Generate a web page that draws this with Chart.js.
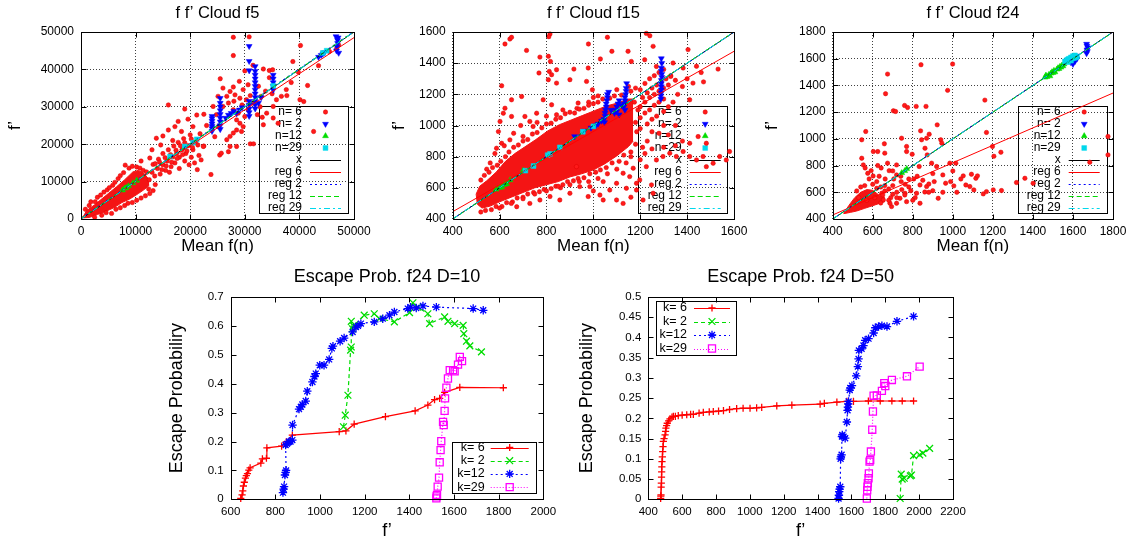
<!DOCTYPE html>
<html>
<head>
<meta charset="utf-8">
<script src="https://cdn.jsdelivr.net/npm/chart.js@4.4.1/dist/chart.umd.min.js"></script>
<style>
  html, body { margin: 0; padding: 0; background: #fff; }
  #sheet { position: relative; width: 1136px; height: 542px; overflow: hidden; background: #fff; }
  #sheet canvas { position: absolute; left: 0; top: 0; pointer-events: none; }
</style>
</head>
<body>
<div id="sheet">
  <canvas id="cF5" width="1136" height="542"></canvas>
  <canvas id="cF15" width="1136" height="542"></canvas>
  <canvas id="cF24" width="1136" height="542"></canvas>
  <canvas id="cD10" width="1136" height="542"></canvas>
  <canvas id="cD50" width="1136" height="542"></canvas>
</div>
<script>
// ---------------------------------------------------------------------------
// Tick values
// ---------------------------------------------------------------------------
const f5Ticks   = [0, 10000, 20000, 30000, 40000, 50000];
const f15Ticks  = [400, 600, 800, 1000, 1200, 1400, 1600];
const f24Ticks  = [400, 600, 800, 1000, 1200, 1400, 1600, 1800];
const d10XTicks = [600, 800, 1000, 1200, 1400, 1600, 1800, 2000];
const d10YTicks = [0, 0.1, 0.2, 0.3, 0.4, 0.5, 0.6, 0.7];
const d50XTicks = [400, 600, 800, 1000, 1200, 1400, 1600, 1800, 2000, 2200];
const d50YTicks = [0, 0.05, 0.1, 0.15, 0.2, 0.25, 0.3, 0.35, 0.4, 0.45, 0.5];

// ---------------------------------------------------------------------------
// f5 cloud: [mean f(n), f']
// ---------------------------------------------------------------------------
// region where the n=6 markers overlap completely (upper / lower edge)
const f5DenseTop = [[300,300],[1000,2200],[2500,3800],[3500,5000],[5000,6800],[6500,8600],[8000,10500],[9500,12600],[10500,13000],[11500,12200],[12500,10500]];
const f5DenseLow = [[300,300],[1500,400],[3000,1200],[4500,2000],[6000,3000],[7500,4400],[9000,5400],[10500,6800],[11500,7800],[12500,9000]];
const f5N6 = [
  [800,2600],[1500,3600],[1800,4600],[2600,4600],[3000,5800],[3600,6400],[4200,7200],[4800,7800],[5200,8400],[5800,9000],[6200,9800],[6800,10800],[7200,11600],[7800,12400],[8100,14400],[8800,13600],[9400,14100],[10200,13900],[10800,13600],[11400,13000],[12000,12600],
  [2500,500],[3800,1000],[4600,1700],[5600,1500],[6400,2600],[7200,3000],[8000,3600],[8600,4200],[9400,4400],[10200,5000],[11000,5600],[11800,6200],[12600,6800],[13200,7600],[12400,8000],[13600,9200],
  [12500,10500],[13000,12500],[13200,14600],[13500,11500],[14000,13500],[14200,16000],[14500,12000],[15000,14500],[15000,17500],[15500,13000],[15800,15500],[16000,18500],[16200,12500],[16500,14000],[16800,16600],[17000,19500],[17200,15000],[17500,17500],[17800,20500],[18000,13500],[18000,16500],[18500,18500],[18800,21500],[19000,15500],[19200,17500],[19600,19600],[19800,14500],[20000,22500],[20200,16500],[20500,18500],[20800,15000],[21000,20500],[21300,13200],[21600,17000],[22000,15800],[22500,19500],[23800,11900],[13000,18500],[13800,21600],[15000,22200],[16000,23800],[17200,24700],[17800,26100],[19600,26700],[19000,29400],[16000,30500],[21200,27800],[20500,24700],[22400,19400],[25400,17100],[27000,18000],[28500,19400],[12600,16300],[11000,15500],[14600,19800],[18400,23400],[16800,21000],[21800,22800],
  [13600,14800],[14400,15200],[15400,16400],[16400,17200],[17400,18400],[18200,19600],[19000,20400],[20200,21400],[14800,13200],[15600,14200],[16600,15200],[17600,16200],[18600,17200],[19400,18200],[20400,19200],[21400,19800],
  [25500,37500],[27900,43700],[27900,48600],[30800,48700],[30000,39600],[31500,41100],[33400,40100],[34500,39700],[35100,39900],[30600,35900],[29700,34600],[27900,35300],[27300,34100],[26700,32800],[28200,33200],[29100,32300],[30300,31900],[31500,31000],[27000,31000],[26000,30100],[27900,29200],[28800,28300],[30000,27400],[30600,29200],[29100,25600],[29700,24700],[28500,23800],[29400,23400],[27900,23000],[27300,22100],[26700,21200],[25700,17600],[27300,19400],[31000,20100],[31600,20100],[32300,27900],[33200,27200],[34000,28300],[35200,30100],[35800,31900],[36700,32800],[37600,34600],[37700,33000],[38800,42100],[40200,46400],[40100,31900],[40800,31400],[41500,35700],[42600,23400],[36100,25600],[35200,27000],[33400,25200],[25100,32800],[24200,30100],[24800,27900],[25100,24700],[24500,22000],[23000,25000],[22500,28000],[28500,26500],[29500,30500],[31000,33000],[32500,35500],[33800,34200],[35000,33500],[32800,30000],[34500,37800],[38500,36500],[39800,39300],[43500,41000],[46800,45500],[47200,46500],[45500,44800],[29000,36800],[26000,35000],[28000,31500],[33000,32800]
];
const f5N2 = [
  [24000,23500],[24000,24200],[24000,24800],[24000,25500],[24000,26200],[24000,26900],[24000,27500],
  [25500,24000],[25500,25000],[25500,26000],[25500,27000],[25500,28000],[25500,29000],[25500,30000],[25500,31000],[25500,32300],
  [26500,27000],[27000,27800],[27500,28300],[28000,28800],[28500,28200],[29000,29200],[29500,29800],
  [30800,27500],[30800,28500],[30800,29500],[30800,30500],[30800,31500],[30800,39700],[30800,42200],[30800,46200],
  [31900,29500],[31900,30500],[31900,31500],[31900,32500],[31900,33500],[31900,34500],[31900,35500],[31900,36500],[31900,37500],[31900,38500],[31900,39500],[31900,40800],
  [32500,31000],[33000,32500],
  [35200,34500],[35200,35500],[35200,36500],[35200,37500],[35200,38500],
  [43500,43300],[44000,43800],[44300,44200],[44600,44500],
  [46800,45000],[46900,46000],[47000,47000],[47000,47800],[47100,48500],[46700,48800],[47200,44400]
];
const f5N12 = [[7600,7700],[8000,8200],[8300,8400],[8700,8800],[9500,9600],[10200,10300]];
const f5N29 = [[16300,16700],[19000,19400],[20500,20400],[21200,21300],[35200,35600],[44300,44400],[45000,45000]];
const f5LineX = [[0,0],[50000,50000]];
const f5Reg6  = [[0,300],[50000,48500]];
const f5Reg2  = [[0,200],[50000,50200]];
const f5Reg12 = [[0,100],[50000,50100]];
const f5Reg29 = [[0,0],[50000,50000]];

// ---------------------------------------------------------------------------
// f15 cloud
// ---------------------------------------------------------------------------
const f15DenseTop = [[500,560],[515,610],[545,645],[585,700],[625,770],[665,820],[705,860],[755,910],[805,965],[855,1005],[905,1035],[955,1065],[1005,1095],[1055,1125],[1105,1145],[1150,1170],[1170,1170]];
const f15DenseLow = [[500,560],[505,495],[525,470],[560,483],[600,510],[650,540],[700,570],[750,600],[800,620],[850,640],[900,670],[950,690],[1000,715],[1050,755],[1100,805],[1150,865],[1170,900]];
const f15N6 = [
  [623,1523],[644,1555],[651,1566],[715,1482],[815,1587],[810,1570],[808,1444],[817,1411],[812,1347],[822,1326],[808,1294],[772,1439],[768,1337],[843,1358],[917,1362],[978,1369],[979,1523],[1060,1566],[1079,1476],[1030,1427],[971,1283],[996,1229],[609,1255],[694,1186],[651,1165],[623,1111],[616,1079],[651,1058],[602,1026],[595,961],[644,908],[609,886],[587,854],[708,1058],[729,1026],[743,994],[758,1079],[786,1165],[822,1133],[843,1069],[843,1272],[900,1294],[935,1144],[560,760],[545,720],[580,820],[620,870],[660,950],[690,1000],[700,930],[760,1020],[800,1060],[870,1100],[930,1110],[980,1150],[1020,1190],[1100,1230],[1150,1250],[1000,1180],
  [520,650],[535,680],[555,700],[570,730],[590,745],[605,770],[625,800],[640,830],[660,860],[680,875],[700,900],[720,910],[740,945],[760,955],[780,985],[800,1010],[820,1015],[840,1040],[860,1050],[880,1075],[900,1085],[920,1080],[940,1105],[960,1110],[980,1130],[1000,1140],[1020,1150],[1040,1170],[1070,1175],[1090,1190],[1120,1195],[1160,1220],[1180,1240],
  [520,445],[540,455],[565,460],[585,480],[610,480],[630,505],[655,510],[675,535],[700,540],[720,560],[745,570],[770,575],[790,590],[820,595],[840,610],[870,620],[890,640],[915,645],[935,660],[960,665],[985,690],[1010,700],[1030,715],[1055,730],[1080,760],[1110,770],[1130,810],[1160,830],[1180,880],[1185,960],[1180,1020],[1190,1100],[1175,1150],
  [1200,1230],[1220,1270],[1240,1300],[1260,1320],[1280,1340],[1300,1360],[1210,1180],[1230,1210],[1250,1240],[1270,1260],[1290,1280],[1310,1300],[1330,1320],[1200,1120],[1220,1150],[1240,1180],[1260,1200],[1280,1220],[1300,1240],[1320,1260],[1200,1050],[1220,1080],[1240,1100],[1260,1130],[1280,1150],[1300,1170],[1200,980],[1230,1010],[1250,1040],[1270,1060],[1300,1090],[1320,1120],[1340,1150],[1360,1200],[1380,1250],[1330,1315],[1340,1401],[1383,1369],[1404,1487],[1425,1272],[1411,1165],[1532,1362],[1226,1591],[1241,1576],[1255,1508],[1219,1422],[1148,1476],[1162,1411],[1269,1379],[1350,1290],[1400,1300],[1440,1380],[1460,1340],[1470,1280],
  [928,736],[942,608],[978,544],[1028,554],[1042,640],[1070,586],[1099,629],[1127,694],[1141,597],[1155,672],[1170,726],[1184,629],[1198,651],[1226,736],[1248,619],[1269,779],[1297,801],[1326,822],[1354,801],[1383,833],[1411,801],[1440,779],[1468,801],[1482,736],[1511,758],[1539,801],[1567,779],[1581,833],[1447,929],[1411,886],[1482,886],[1380,900],[1350,870],[1300,860],[1250,850],[1220,820],[1200,780],[1160,800],[1140,760],[1100,720],[1060,690],[1020,660],[980,640],[940,640],[900,620],[860,600],[673,479],[729,500],[772,522],[815,544],[857,522],[900,565],[985,608],[1042,522],[1099,522],[1184,586],[1212,522],[1255,565],[1127,500],[1160,540],[1000,580],[600,470],[650,500],[700,530],[750,560],[800,580],[850,610],[1320,940],[1350,1000],[1300,1000],[1280,950],[1250,960],[1230,900],[1210,860]
];
const f15N2 = [
  [1045,1040],[1048,1020],[1050,1060],[1050,1080],[1052,1100],[1055,1120],[1055,1140],[1058,1160],[1060,1180],[1060,1200],[1065,1215],
  [1090,1080],[1095,1100],[1100,1120],[1105,1140],[1110,1160],[1100,1090],[1110,1070],
  [1130,1120],[1132,1140],[1135,1160],[1135,1180],[1138,1200],[1140,1220],[1140,1240],[1142,1270],[1135,1100],
  [1288,1170],[1288,1190],[1290,1210],[1290,1230],[1290,1250],[1290,1270],[1290,1290],[1292,1310],[1292,1330],[1290,1350],[1290,1370],[1292,1400],[1290,1430],
  [920,930],[960,965],[990,985],[1010,1000],[1020,1010],[1035,1030],[1075,1100],[1120,1130]
];
const f15N12 = [[585,590],[600,600],[610,605],[620,620],[630,625],[645,650],[700,710]];
const f15N29 = [[710,710],[745,740],[805,810],[815,818],[857,860],[955,960],[1000,995]];
const f15LineX = [[400,400],[1600,1600]];
const f15Reg6  = [[400,447],[1600,1476]];
const f15Reg2  = [[400,402],[1600,1598]];
const f15Reg12 = [[400,399],[1600,1601]];
const f15Reg29 = [[400,400],[1600,1600]];

// ---------------------------------------------------------------------------
// f24 cloud
// ---------------------------------------------------------------------------
const f24DenseTop = [[455,440],[480,500],[510,560],[540,600],[570,620],[600,615],[630,580],[660,560]];
const f24DenseLow = [[455,440],[490,450],[520,460],[560,480],[600,500],[630,515],[660,530]];
const f24N6 = [
  [674,1485],[841,1555],[999,1560],[974,1363],[664,1338],[703,1210],[714,1205],[759,1250],[774,1235],[817,1243],[866,1243],[1160,1290],[1240,900],[1205,870],
  [565,1055],[545,993],[545,855],[553,805],[603,905],[625,905],[658,963],[660,893],[674,818],[719,805],[719,730],[744,1005],[769,943],[769,905],[797,885],[839,1060],[844,993],[869,1005],[882,1035],[861,930],[872,880],[894,818],[832,793],[919,793],[940,993],[945,968],[922,1105],[1015,818],[985,818],[1168,1048],[1198,943],
  [989,680],[1005,648],[964,668],[907,680],[869,643],[836,655],[819,593],[836,518],[769,530],[761,593],[736,555],[719,518],[694,493],[686,518],[653,543],[645,593],[620,630],[927,555],[1052,723],[1093,735],[1115,705],[1123,723],[1065,655],[1085,643],[1105,618],[1152,588],[1168,605],[1202,618],[1243,613],[1318,673],[1360,705],[1401,668],[1775,1018],[1775,880],[1684,825],
  [600,660],[620,680],[640,640],[660,610],[680,625],[700,585],[720,600],[745,620],[780,640],[805,700],[822,720],[850,690],[880,662],[700,650],[662,700],[632,720],[602,722],[582,700],[592,762],[562,782],[575,742],[642,782],[682,762],[705,700],[742,680],[762,660],[790,612],[812,560],[860,602],[900,612],[950,600],[1020,600],[1040,700],[560,650],[540,640],[520,610],[530,560],[570,540],[610,560],[650,580],[690,560],[720,560],[680,540],[640,520],[760,580],[800,540],[880,600],[1000,760],[950,730],[900,740],[780,700],[740,720],[660,650],[700,760],[625,800]
];
const f24N2 = [[1668,1640],[1672,1655],[1670,1668],[1675,1682],[1670,1695],[1668,1710],[1600,1560],[1610,1580],[1620,1600],[1590,1572],[1615,1620]];
const f24N12 = [[1460,1460],[1465,1475],[1470,1465],[1480,1480],[1485,1470],[1490,1490],[1495,1500],[1500,1495],[1505,1510],[1510,1500],[1520,1520],[1525,1530],[1530,1525],[1535,1540],[1540,1535],[1545,1550],[1550,1545],[1555,1560],[745,745],[760,760],[770,775]];
const f24N29 = [[1560,1580],[1570,1590],[1575,1575],[1580,1600],[1585,1590],[1590,1610],[1595,1600],[1600,1620],[1605,1605],[1610,1625],[1615,1610],[1620,1615],[1575,1595],[1590,1585]];
const f24LineX = [[400,400],[1800,1800]];
const f24Reg6  = [[400,430],[1800,1343]];
const f24Reg2  = [[400,401],[1800,1801]];
const f24Reg12 = [[400,399],[1800,1799]];
const f24Reg29 = [[400,400],[1800,1800]];

// ---------------------------------------------------------------------------
// Escape probability, f24: [f', probability]
// ---------------------------------------------------------------------------
const d10K6 = [[645,0.003],[651,0.015],[654,0.029],[657,0.046],[661,0.059],[666,0.073],[670,0.082],[675,0.089],[681,0.101],[687,0.109],[735,0.125],[742,0.14],[760,0.142],[762,0.178],[828,0.184],[849,0.199],[876,0.222],[1086,0.234],[1116,0.237],[1153,0.26],[1293,0.286],[1426,0.306],[1483,0.326],[1513,0.345],[1536,0.349],[1558,0.37],[1626,0.387],[1821,0.386]];
const d10K2 = [[1105,0.251],[1113,0.291],[1125,0.36],[1137,0.516],[1140,0.527],[1140,0.616],[1145,0.59],[1150,0.6],[1198,0.637],[1243,0.642],[1266,0.625],[1333,0.614],[1401,0.646],[1416,0.68],[1438,0.665],[1483,0.642],[1491,0.608],[1558,0.631],[1573,0.616],[1603,0.608],[1641,0.602],[1644,0.573],[1656,0.547],[1671,0.531],[1723,0.51]];
const d10K12 = [[834,0.023],[837,0.035],[839,0.044],[843,0.084],[846,0.093],[848,0.1],[846,0.188],[852,0.192],[861,0.199],[868,0.2],[876,0.205],[877,0.257],[906,0.312],[914,0.32],[921,0.328],[936,0.34],[943,0.374],[966,0.406],[975,0.425],[981,0.435],[999,0.464],[1018,0.464],[1041,0.484],[1053,0.522],[1058,0.53],[1090,0.547],[1108,0.558],[1146,0.579],[1161,0.596],[1170,0.6],[1183,0.608],[1243,0.614],[1281,0.625],[1311,0.637],[1333,0.648],[1393,0.66],[1405,0.665],[1431,0.662],[1461,0.669],[1521,0.665],[1686,0.66],[1731,0.654]];
const d10K29 = [[1521,0.003],[1522,0.01],[1524,0.015],[1527,0.044],[1533,0.075],[1536,0.128],[1540,0.17],[1543,0.201],[1551,0.268],[1554,0.257],[1558,0.306],[1560,0.349],[1566,0.386],[1573,0.418],[1581,0.447],[1596,0.447],[1603,0.443],[1618,0.466],[1626,0.493],[1636,0.478]];

const d50K6 = [[473,0.002],[474,0.008],[475,0.011],[476,0.03],[477,0.04],[478,0.055],[479,0.068],[480,0.08],[481,0.093],[483,0.105],[485,0.118],[487,0.13],[489,0.143],[493,0.15],[499,0.159],[502,0.168],[504,0.176],[508,0.182],[512,0.188],[520,0.194],[528,0.199],[540,0.203],[548,0.205],[560,0.205],[577,0.207],[600,0.208],[627,0.209],[650,0.21],[666,0.21],[700,0.213],[725,0.215],[760,0.216],[784,0.217],[815,0.218],[844,0.219],[880,0.222],[922,0.224],[960,0.225],[1001,0.225],[1040,0.226],[1070,0.227],[1159,0.231],[1248,0.233],[1415,0.235],[1440,0.237],[1514,0.24],[1573,0.242],[1612,0.242],[1700,0.243],[1770,0.243],[1839,0.243],[1900,0.243],[1967,0.243]];
const d50K2 = [[1888,0.002],[1894,0.062],[1900,0.05],[1912,0.052],[1948,0.058],[1955,0.06],[1967,0.108],[2003,0.11],[2022,0.114],[2062,0.126]];
const d50K12 = [[1524,0.002],[1526,0.01],[1528,0.019],[1530,0.025],[1534,0.031],[1536,0.1],[1538,0.105],[1542,0.11],[1544,0.155],[1546,0.159],[1553,0.155],[1563,0.151],[1573,0.191],[1577,0.22],[1579,0.228],[1581,0.236],[1583,0.242],[1590,0.27],[1593,0.275],[1603,0.281],[1628,0.305],[1638,0.328],[1642,0.347],[1644,0.368],[1660,0.372],[1671,0.38],[1681,0.393],[1701,0.397],[1731,0.411],[1741,0.424],[1760,0.427],[1780,0.429],[1810,0.427],[1869,0.44],[1967,0.452]];
const d50K29 = [[1691,0.002],[1693,0.022],[1695,0.031],[1697,0.04],[1701,0.052],[1703,0.064],[1707,0.093],[1711,0.097],[1715,0.118],[1723,0.172],[1727,0.217],[1731,0.256],[1750,0.257],[1780,0.268],[1794,0.287],[1800,0.28],[1839,0.295],[1928,0.304],[2003,0.328]];

// ---------------------------------------------------------------------------
// Styling helpers
// ---------------------------------------------------------------------------
const PAGE_W = 1136, PAGE_H = 542;
const FONT = '"Liberation Sans", Arial, Helvetica, sans-serif';
const RED = '#ff0000', GREEN = '#00dd00', BLUE = '#0000ff', MAGENTA = '#ff00ff', CYAN = '#00d8ec';
const GRID = 'rgba(0,0,0,0.75)';
Chart.defaults.font.family = FONT;

const xy = a => a.map(p => ({ x: p[0], y: p[1] }));

function markerSet(label, pts, st) {
  return {
    type: 'scatter', keyLabel: label, data: xy(pts), showLine: false,
    pointStyle: st.style, pointRadius: st.r, pointRotation: st.rot || 0,
    pointBackgroundColor: st.fill, pointBorderColor: st.edge, pointBorderWidth: st.bw,
    clip: 8
  };
}
function fitLine(label, pts, color, dash) {
  return {
    type: 'scatter', keyLabel: label, data: xy(pts), showLine: true,
    borderColor: color, borderWidth: 1, borderDash: dash, pointRadius: 0, clip: 0
  };
}
function denseBand(top, low, color) {
  return [
    { type: 'line', data: xy(top), borderColor: color, borderWidth: 1, backgroundColor: color,
      fill: '+1', pointRadius: 0, tension: 0, clip: 0 },
    { type: 'line', data: xy(low), borderColor: color, borderWidth: 1, backgroundColor: color,
      fill: false, pointRadius: 0, tension: 0, clip: 0 }
  ];
}
function curve(label, pts, color, dash, style, r) {
  return {
    type: 'scatter', keyLabel: label, data: xy(pts), showLine: true,
    borderColor: color, borderWidth: 1.2, borderDash: dash,
    pointStyle: style, pointRadius: r, pointBackgroundColor: 'rgba(0,0,0,0)',
    pointBorderColor: color, pointBorderWidth: 1.3, clip: 8
  };
}

const dotRed    = { style: 'circle',   r: 2.2, fill: '#ff1a1a', edge: '#dd0000', bw: 0.5 };
const triBlue   = { style: 'triangle', r: 3.4, rot: 180, fill: BLUE, edge: BLUE, bw: 0.5 };
const triGreen  = { style: 'triangle', r: 3.4, fill: GREEN, edge: GREEN, bw: 0.5 };
const sqCyan    = { style: 'rect',     r: 3.4, fill: CYAN, edge: CYAN, bw: 0.5 };

function cloudSets(dTop, dLow, n6, n2, n12, n29, lx, r6, r2, r12, r29) {
  return [
    ...denseBand(dTop, dLow, '#f41414'),
    markerSet('n= 6', n6, dotRed),
    markerSet('n= 2', n2, triBlue),
    markerSet('n=12', n12, triGreen),
    markerSet('n=29', n29, sqCyan),
    fitLine('x', lx, '#000000', []),
    fitLine('reg 6', r6, RED, []),
    fitLine('reg 2', r2, BLUE, [2, 3]),
    fitLine('reg 12', r12, GREEN, [5, 3]),
    fitLine('reg 29', r29, CYAN, [6, 3, 2, 3])
  ];
}
function escapeSets(k6, k2, k12, k29) {
  return [
    curve('k= 6', k6, RED, [], 'cross', 3.6),
    curve('k= 2', k2, GREEN, [4, 3], 'crossRot', 4.8),
    curve('k=12', k12, BLUE, [2, 3], 'star', 4.2),
    curve('k=29', k29, MAGENTA, [1, 2], 'rect', 5)
  ];
}

// ---------------------------------------------------------------------------
// Drawing of frame, inward ticks, key and panel title
// ---------------------------------------------------------------------------
function drawMarker(ctx, ds, x, y) {
  ctx.save();
  ctx.fillStyle = ds.pointBackgroundColor;
  ctx.strokeStyle = ds.pointBorderColor;
  ctx.lineWidth = ds.pointBorderWidth;
  ctx.setLineDash([]);
  Chart.helpers.drawPoint(ctx, {
    pointStyle: ds.pointStyle, rotation: ds.pointRotation || 0,
    radius: ds.pointRadius, borderWidth: ds.pointBorderWidth
  }, x, y);
  ctx.restore();
}
function drawKey(chart, k) {
  const ctx = chart.ctx;
  ctx.save();
  ctx.strokeStyle = '#000';
  ctx.lineWidth = 1;
  ctx.setLineDash([]);
  ctx.strokeRect(Math.round(k.left) + 0.5, Math.round(k.top) + 0.5,
                 Math.round(k.right - k.left), Math.round(k.bottom - k.top));
  ctx.font = k.size + 'px ' + FONT;
  ctx.textAlign = 'right';
  ctx.textBaseline = 'middle';
  let row = 0;
  chart.data.datasets.forEach(ds => {
    if (!ds.keyLabel) return;
    const y = k.rows[row++];
    ctx.fillStyle = '#000';
    ctx.fillText(ds.keyLabel, k.right - k.textGap, y);
    const x1 = k.right - k.sampleFrom, x2 = k.right - k.sampleTo;
    if (ds.showLine) {
      ctx.save();
      ctx.strokeStyle = ds.borderColor;
      ctx.lineWidth = ds.borderWidth;
      ctx.setLineDash(ds.borderDash || []);
      ctx.beginPath();
      ctx.moveTo(x1, Math.round(y) + 0.5);
      ctx.lineTo(x2, Math.round(y) + 0.5);
      ctx.stroke();
      ctx.restore();
    }
    if (ds.pointRadius > 0) drawMarker(ctx, ds, (x1 + x2) / 2, y);
  });
  ctx.restore();
}
function drawFrame(chart, len) {
  const ctx = chart.ctx, a = chart.chartArea;
  const L = Math.round(a.left) + 0.5, R = Math.round(a.right) + 0.5;
  const T = Math.round(a.top) + 0.5, B = Math.round(a.bottom) + 0.5;
  const sx = chart.scales.x, sy = chart.scales.y;
  ctx.save();
  ctx.strokeStyle = '#000';
  ctx.lineWidth = 1;
  ctx.setLineDash([]);
  ctx.beginPath();
  sx.ticks.forEach(t => {
    const px = Math.round(sx.getPixelForValue(t.value)) + 0.5;
    ctx.moveTo(px, B); ctx.lineTo(px, B - len);
    ctx.moveTo(px, T); ctx.lineTo(px, T + len);
  });
  sy.ticks.forEach(t => {
    const py = Math.round(sy.getPixelForValue(t.value)) + 0.5;
    ctx.moveTo(L, py); ctx.lineTo(L + len, py);
    ctx.moveTo(R, py); ctx.lineTo(R - len, py);
  });
  ctx.stroke();
  ctx.strokeRect(L, T, R - L, B - T);
  ctx.restore();
}
function drawTitle(chart, t) {
  const ctx = chart.ctx, a = chart.chartArea;
  ctx.save();
  ctx.font = t.size + 'px ' + FONT;
  ctx.fillStyle = '#000';
  ctx.textAlign = 'center';
  ctx.textBaseline = 'middle';
  ctx.fillText(t.text, (a.left + a.right) / 2, t.y);
  ctx.restore();
}

// ---------------------------------------------------------------------------
// One panel = one chart; its plot box is placed by layout padding and fixed axis sizes
// ---------------------------------------------------------------------------
function buildPanel(canvasId, p) {
  const padLeft = p.yTitleX - p.yTitleSize / 2;
  const axisW = p.area.l - padLeft;
  const axisH = (p.xTitleY + p.xTitleSize / 2) - p.area.b;
  const padBottom = PAGE_H - (p.area.b + axisH);
  p.datasets.forEach((d, i, arr) => { d.order = arr.length - i; });
  const tickFmt = v => String(v);
  const decor = {
    id: 'panelDecor',
    beforeDatasetsDraw(chart) { drawKey(chart, p.key); },
    afterDatasetsDraw(chart) { drawFrame(chart, 5); },
    afterDraw(chart) { drawTitle(chart, p.title); }
  };
  return new Chart(document.getElementById(canvasId), {
    type: 'scatter',
    data: { datasets: p.datasets },
    options: {
      responsive: false,
      animation: false,
      events: [],
      layout: { padding: { left: padLeft, top: p.area.t, right: PAGE_W - p.area.r, bottom: padBottom } },
      plugins: { legend: { display: false }, tooltip: { enabled: false } },
      scales: {
        x: {
          type: 'linear', position: 'bottom',
          min: p.xTicks[0], max: p.xTicks[p.xTicks.length - 1],
          afterBuildTicks: s => { s.ticks = p.xTicks.map(v => ({ value: v })); },
          afterFit: s => { s.height = axisH; },
          grid: { display: p.grid, drawTicks: false, color: GRID, lineWidth: 1 },
          border: { display: false, dash: [1, 2] },
          ticks: { color: '#000', font: { family: FONT, size: p.tickSize }, padding: p.xTickPad,
                   maxRotation: 0, autoSkip: false, callback: tickFmt },
          title: { display: true, text: p.xTitle, color: '#000',
                   font: { family: FONT, size: p.xTitleSize, lineHeight: 1 }, padding: 0 }
        },
        y: {
          type: 'linear', position: 'left',
          min: p.yTicks[0], max: p.yTicks[p.yTicks.length - 1],
          afterBuildTicks: s => { s.ticks = p.yTicks.map(v => ({ value: v })); },
          afterFit: s => { s.width = axisW; },
          grid: { display: p.grid, drawTicks: false, color: GRID, lineWidth: 1 },
          border: { display: false, dash: [1, 2] },
          ticks: { color: '#000', font: { family: FONT, size: p.tickSize }, padding: p.yTickPad,
                   autoSkip: false, callback: tickFmt },
          title: { display: true, text: p.yTitle, color: '#000',
                   font: { family: FONT, size: p.yTitleSize, lineHeight: 1 }, padding: 0 }
        }
      }
    },
    plugins: [decor]
  });
}

const cloudKeyRows = [112, 124, 136, 148, 160, 172, 184, 196, 208];
function cloudKey(left, right) {
  return { left, right, top: 106, bottom: 213, size: 12, rows: cloudKeyRows,
           textGap: 46, sampleFrom: 38, sampleTo: 7 };
}
const cloudCommon = {
  grid: true, tickSize: 12, xTickPad: 5, yTickPad: 7,
  xTitle: 'Mean f(n)', yTitle: 'f\u2019', xTitleSize: 17, yTitleSize: 17, xTitleY: 246.5
};
const escapeCommon = {
  grid: false, tickSize: 11.5, xTickPad: 6, yTickPad: 7,
  xTitle: 'f\u2019', yTitle: 'Escape Probabiliry', xTitleSize: 18, yTitleSize: 18, xTitleY: 531
};

buildPanel('cF5', Object.assign({}, cloudCommon, {
  area: { l: 81, t: 32, r: 354, b: 219 }, yTitleX: 15,
  xTicks: f5Ticks, yTicks: f5Ticks,
  title: { text: 'f f\u2019 Cloud f5', y: 13, size: 16.5 },
  key: cloudKey(259, 348),
  datasets: cloudSets(f5DenseTop, f5DenseLow, f5N6, f5N2, f5N12, f5N29, f5LineX, f5Reg6, f5Reg2, f5Reg12, f5Reg29)
}));
buildPanel('cF15', Object.assign({}, cloudCommon, {
  area: { l: 452.7, t: 32, r: 734, b: 219 }, yTitleX: 399,
  xTicks: f15Ticks, yTicks: f15Ticks,
  title: { text: 'f f\u2019 Cloud f15', y: 13, size: 16.5 },
  key: cloudKey(638.3, 727.7),
  datasets: cloudSets(f15DenseTop, f15DenseLow, f15N6, f15N2, f15N12, f15N29, f15LineX, f15Reg6, f15Reg2, f15Reg12, f15Reg29)
}));
buildPanel('cF24', Object.assign({}, cloudCommon, {
  area: { l: 832.7, t: 32, r: 1113, b: 219 }, yTitleX: 772,
  xTicks: f24Ticks, yTicks: f24Ticks,
  title: { text: 'f f\u2019 Cloud f24', y: 13, size: 16.5 },
  key: cloudKey(1017.7, 1106.7),
  datasets: cloudSets(f24DenseTop, f24DenseLow, f24N6, f24N2, f24N12, f24N29, f24LineX, f24Reg6, f24Reg2, f24Reg12, f24Reg29)
}));
buildPanel('cD10', Object.assign({}, escapeCommon, {
  area: { l: 230.7, t: 297, r: 543.3, b: 499.3 }, yTitleX: 177.5,
  xTicks: d10XTicks, yTicks: d10YTicks,
  title: { text: 'Escape Prob. f24 D=10', y: 277.5, size: 18 },
  key: { left: 451.7, right: 535.7, top: 441.7, bottom: 492.7, size: 12.5,
         rows: [447.5, 460.7, 473.9, 487.1], textGap: 51, sampleFrom: 45, sampleTo: 7 },
  datasets: escapeSets(d10K6, d10K2, d10K12, d10K29)
}));
buildPanel('cD50', Object.assign({}, escapeCommon, {
  area: { l: 648.3, t: 297, r: 953, b: 499.3 }, yTitleX: 587.5,
  xTicks: d50XTicks, yTicks: d50YTicks,
  title: { text: 'Escape Prob. f24 D=50', y: 277.5, size: 18 },
  key: { left: 655.5, right: 735, top: 301, bottom: 355, size: 12.5,
         rows: [308, 321.5, 335, 348.5], textGap: 48, sampleFrom: 41, sampleTo: 5 },
  datasets: escapeSets(d50K6, d50K2, d50K12, d50K29)
}));
</script>
</body>
</html>
